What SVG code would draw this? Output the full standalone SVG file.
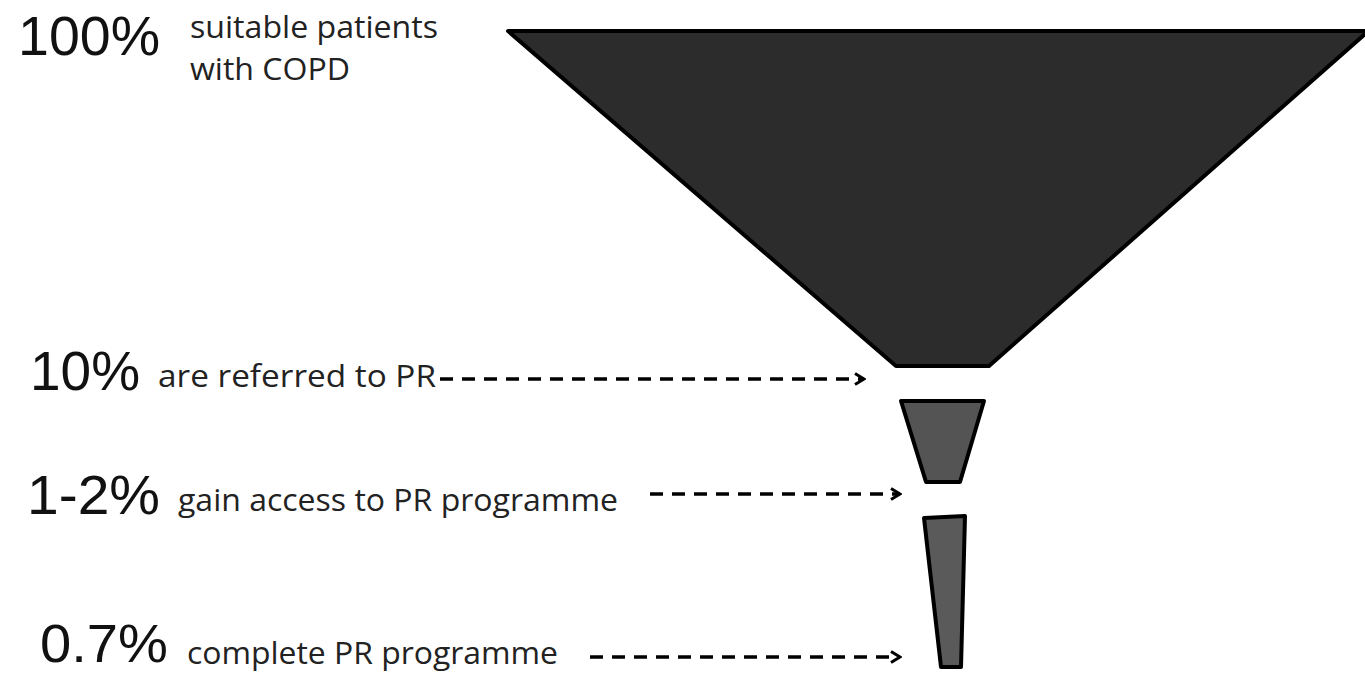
<svg xmlns="http://www.w3.org/2000/svg" width="1365" height="674" viewBox="0 0 1365 674">
<defs>
<marker id="ah" viewBox="0 0 14 14" refX="12" refY="7" markerWidth="14" markerHeight="14" markerUnits="userSpaceOnUse" orient="auto">
<path d="M3,1.5 L12,7 L3,12.5" fill="none" stroke="#000" stroke-width="3"/>
</marker>
</defs>
<style>
.pct{font-family:"Liberation Sans",Arial,sans-serif;font-size:56px;fill:#111}
.lbl{font-family:"Open Sans","Noto Sans",sans-serif;font-size:31px;fill:#222}
.arr{stroke:#000;stroke-width:3.5;stroke-dasharray:13 9;fill:none}
.fn{stroke:#000;stroke-width:4;stroke-linejoin:round}
</style>
<g id="funnel1"><path class="fn" d="M508,31 L1365,31 L1365,34 L989,366 L896,366 Z" fill="#2c2c2c"/></g>
<g id="funnel2"><path class="fn" d="M901,401 L984,401 L960,482 L926,482 Z" fill="#545454"/></g>
<g id="funnel3"><path class="fn" d="M924,518 L965,516 L961,667 L941,667 Z" fill="#5a5a5a"/></g>
<g id="labels">
<text class="pct" x="18" y="55" textLength="142" lengthAdjust="spacingAndGlyphs">100%</text>
<text class="lbl" x="190" y="38" textLength="248" lengthAdjust="spacingAndGlyphs">suitable patients</text>
<text class="lbl" x="190" y="80" textLength="160" lengthAdjust="spacingAndGlyphs">with COPD</text>
<text class="pct" x="30" y="390" textLength="110" lengthAdjust="spacingAndGlyphs">10%</text>
<text class="lbl" x="158" y="387" textLength="278" lengthAdjust="spacingAndGlyphs">are referred to PR</text>
<text class="pct" x="27" y="514" textLength="133" lengthAdjust="spacingAndGlyphs">1-2%</text>
<text class="lbl" x="178" y="511" textLength="440" lengthAdjust="spacingAndGlyphs">gain access to PR programme</text>
<text class="pct" x="40" y="662" style="font-size:53px" textLength="128" lengthAdjust="spacingAndGlyphs">0.7%</text>
<text class="lbl" x="187" y="664" textLength="371" lengthAdjust="spacingAndGlyphs">complete PR programme</text>
</g>
<g id="connectors">
<path class="arr" d="M440,379 L864,379" marker-end="url(#ah)"/>
<path class="arr" d="M650,494 L900,494" marker-end="url(#ah)"/>
<path class="arr" d="M590,657 L900,657" marker-end="url(#ah)"/>
</g>
</svg>
